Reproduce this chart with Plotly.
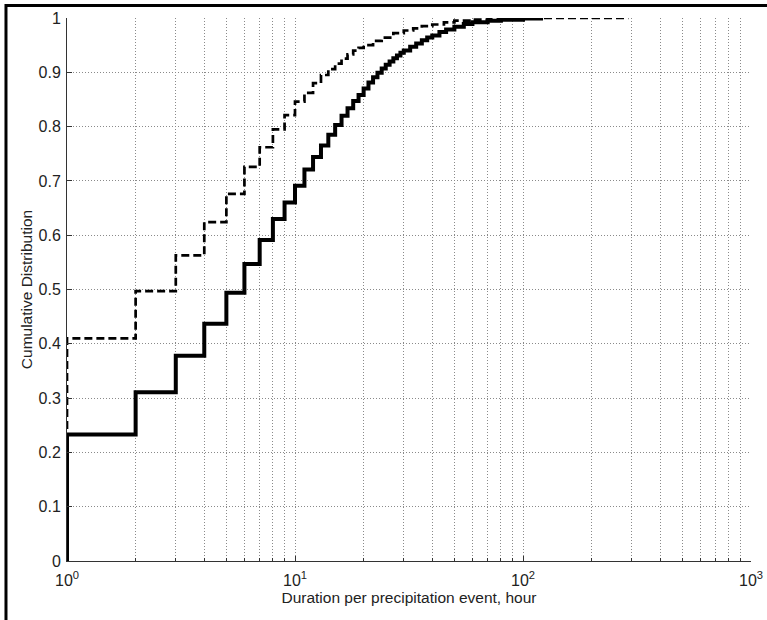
import plotly.graph_objects as go

# Solid series: duration (hours) and cumulative distribution
solid_hours = [1, 2, 3, 4, 5, 6, 7, 8, 9, 10, 11, 12, 13, 14, 15, 16, 17, 18, 19, 20,
               21, 22, 23, 24, 25, 26, 27, 28, 29, 30, 32, 34, 36, 38, 40, 43, 46, 50,
               55, 60, 70, 80, 100, 120]
solid_cdf = [0.233, 0.311, 0.378, 0.437, 0.494, 0.547, 0.591, 0.630, 0.660, 0.691,
             0.721, 0.744, 0.765, 0.785, 0.803, 0.820, 0.834, 0.847, 0.858, 0.870,
             0.881, 0.891, 0.899, 0.907, 0.914, 0.920, 0.926, 0.931, 0.936, 0.940,
             0.947, 0.953, 0.959, 0.964, 0.968, 0.974, 0.979, 0.984,
             0.989, 0.992, 0.995, 0.997, 0.999, 1.000]

# Dashed series
dashed_hours = [1, 2, 3, 4, 5, 6, 7, 8, 9, 10, 11, 12, 13, 14, 15, 16, 17, 18, 19, 20,
                22, 24, 27, 30, 33, 36, 40, 45, 50, 60, 70, 90, 290]
dashed_cdf = [0.410, 0.497, 0.563, 0.624, 0.676, 0.726, 0.762, 0.795, 0.821, 0.846,
              0.862, 0.880, 0.895, 0.906, 0.916, 0.925, 0.933, 0.940, 0.945, 0.950,
              0.958, 0.964, 0.972, 0.977, 0.981, 0.985, 0.988, 0.992, 0.995, 0.997,
              0.999, 1.000, 1.000]

x_tickvals = [1, 10, 100, 1000]
x_ticktext = ["10<sup>0</sup>", "10<sup>1</sup>", "10<sup>2</sup>", "10<sup>3</sup>"]
x_minor = [m * d for d in (1, 10, 100) for m in range(2, 10)]
y_ticks = [i / 10 for i in range(11)]
y_ticktext = ["0", "0.1", "0.2", "0.3", "0.4", "0.5", "0.6", "0.7", "0.8", "0.9", "1"]

FONT = "Liberation Sans, Arial, sans-serif"
FS = 16
TITLE_FS = 15.5

fig = go.Figure()
fig.add_trace(go.Scatter(
    x=[dashed_hours[0]] + dashed_hours, y=[0] + dashed_cdf,
    mode="lines", line=dict(color="black", width=2.7, dash="8px,4px", shape="hv"),
    cliponaxis=False, showlegend=False))
fig.add_trace(go.Scatter(
    x=[solid_hours[0]] + solid_hours, y=[0] + solid_cdf,
    mode="lines", line=dict(color="black", width=4, shape="hv"),
    cliponaxis=False, showlegend=False))

grid_dash = "1px,2px"
grid_col = "#8a8a8a"

fig.update_layout(
    width=767, height=620,
    margin=dict(l=67, r=16, t=18, b=59),
    paper_bgcolor="white", plot_bgcolor="white",
    font=dict(family=FONT, size=FS, color="#222"),
    xaxis=dict(
        type="log", range=[0, 3], automargin=False,
        tickvals=x_tickvals, ticktext=x_ticktext,
        showgrid=True, gridcolor=grid_col, griddash=grid_dash, gridwidth=1,
        minor=dict(tickvals=x_minor, showgrid=True, gridcolor=grid_col,
                   griddash=grid_dash, gridwidth=1, ticks="inside", ticklen=3,
                   tickcolor="#333"),
        ticks="inside", ticklen=5, tickcolor="#333",
        showline=True, linecolor="#333", linewidth=1, mirror=False,
        zeroline=False, ticklabelstandoff=5,
        title=dict(text="Duration per precipitation event, hour", standoff=3,
                   font=dict(size=TITLE_FS)),
        tickfont=dict(size=FS),
    ),
    yaxis=dict(
        range=[0, 1], tickvals=y_ticks, ticktext=y_ticktext, automargin=False,
        showgrid=True, gridcolor=grid_col, griddash=grid_dash, gridwidth=1,
        ticks="inside", ticklen=5, tickcolor="#333",
        showline=True, linecolor="#333", linewidth=1, mirror=False,
        zeroline=False, ticklabelstandoff=2,
        title=dict(text="Cumulative Distribution", standoff=2,
                   font=dict(size=TITLE_FS)),
        tickfont=dict(size=FS),
    ),
)

# Outer image frame (top and left edges visible)
fig.add_shape(type="rect", xref="paper", yref="paper",
              x0=-0.0892, x1=1.2, y0=-0.25, y1=1.023,
              line=dict(color="black", width=3), layer="above")

fig.write_html("out.html")
